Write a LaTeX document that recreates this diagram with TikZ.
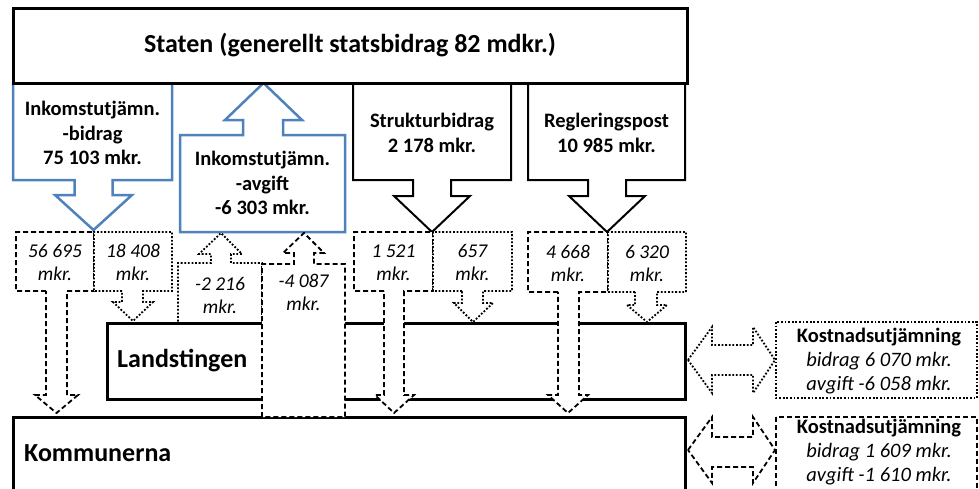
\documentclass[tikz,border=0pt]{standalone}
\usepackage{fontspec}
\setmainfont{Carlito}
\definecolor{myblue}{HTML}{4F81BD}
\begin{document}
\begin{tikzpicture}[x=1pt,y=-1pt,
  thickbox/.style={draw=black,line width=3pt,fill=white},
  bluearrow/.style={draw=myblue,line width=2.5pt,fill=white,line join=miter},
  blackarrow/.style={draw=black,line width=2pt,fill=white,line join=miter},
  dashshape/.style={draw=black,line width=1.8pt,fill=white,dash pattern=on 5pt off 3pt},
  dotshape/.style={draw=black,line width=1.8pt,fill=white,dash pattern=on 1.8pt off 1.8pt},
  lbl/.style={font=\bfseries\fontsize{20.5}{24.5}\selectfont,align=center,inner sep=0pt},
  num/.style={font=\itshape\fontsize{19.5}{23}\selectfont,align=center,inner sep=0pt},
  big/.style={font=\bfseries\fontsize{26}{30}\selectfont,inner sep=0pt},
  kost/.style={font=\fontsize{20.5}{24}\selectfont,align=center,inner sep=0pt}]
\useasboundingbox (0,0) rectangle (979,488);
\clip (0,0) rectangle (979,488);

% main boxes
\draw[thickbox] (13,417) rectangle (685,520);
\draw[thickbox] (107,323) rectangle (685,399);

% arrows from the state
\draw[bluearrow] (13,83) -- (13,180) -- (74.5,180) -- (74.5,195) -- (55,195) -- (93.5,230)
  -- (132,195) -- (112.5,195) -- (112.5,180) -- (172,180) -- (172,83) -- cycle;
\draw[bluearrow] (180,232) -- (180,135) -- (243,135) -- (243,120) -- (225,120) -- (263.5,83)
  -- (302,120) -- (283,120) -- (283,135) -- (345,135) -- (345,232) -- cycle;
\draw[blackarrow] (353,83) -- (353,180) -- (413,180) -- (413,196) -- (394,196) -- (432,232)
  -- (470,196) -- (451,196) -- (451,180) -- (511,180) -- (511,83) -- cycle;
\draw[blackarrow] (528,83) -- (528,180) -- (588,180) -- (588,196) -- (569,196) -- (607,232)
  -- (645,196) -- (626,196) -- (626,180) -- (685,180) -- (685,83) -- cycle;
\draw[thickbox] (13,8) rectangle (687,83);

% dashed callouts
\draw[dashshape] (46,291) -- (16,291) -- (16,232) -- (94,232) -- (94,291) -- (67,291)
  -- (67,395) -- (78,395) -- (56.5,413) -- (35,395) -- (46,395) -- cycle;
\draw[dashshape] (384,291) -- (354,291) -- (354,232) -- (433,232) -- (433,291) -- (404,291)
  -- (404,395) -- (414,395) -- (394,413) -- (375,395) -- (384,395) -- cycle;
\draw[dashshape] (558,292) -- (528,292) -- (528,232) -- (608,232) -- (608,292) -- (579,292)
  -- (579,395) -- (588,395) -- (568,413) -- (548,395) -- (558,395) -- cycle;

% dotted callouts
\draw[dotshape] (122,291) -- (94,291) -- (94,232) -- (172,232) -- (172,291) -- (143,291)
  -- (143,302) -- (153,302) -- (133,321) -- (113,302) -- (122,302) -- cycle;
\draw[dotshape] (462,291) -- (433,291) -- (433,232) -- (512,232) -- (512,291) -- (483,291)
  -- (483,303) -- (493,303) -- (473,322) -- (454,303) -- (462,303) -- cycle;
\draw[dotshape] (635,292) -- (608,292) -- (608,232) -- (686,232) -- (686,292) -- (657,292)
  -- (657,305) -- (667,305) -- (647,322) -- (627,305) -- (635,305) -- cycle;
\draw[dotshape] (178,321.5) -- (178,263) -- (211,263) -- (211,254) -- (199,254) -- (221,233)
  -- (242,254) -- (231,254) -- (231,263) -- (262,263) -- (262,321.5);
\draw[dashshape] (262,417) -- (262,264) -- (294,264) -- (294,253) -- (283,253) -- (304,233)
  -- (324,253) -- (314,253) -- (314,264) -- (345,264) -- (345,417) -- cycle;

% right side
\draw[dotshape] (688,360) -- (712,327) -- (712,345) -- (753,345) -- (753,327) -- (775,360)
  -- (753,393) -- (753,375) -- (712,375) -- (712,393) -- cycle;
\draw[dashshape] (688,450) -- (712,417) -- (712,437) -- (753,437) -- (753,417) -- (775,450)
  -- (753,483) -- (753,467) -- (712,467) -- (712,483) -- cycle;
\draw[dotshape] (776,322) rectangle (977,398);
\draw[dashshape] (776,417) rectangle (977,520);

% texts
\node[big] (staten) at (350,45.5) {Staten (generellt statsbidrag 82 mdkr.)};
\node[lbl] (ib) at (92.5,133) {Inkomstutjämn.\\-bidrag\\75 103 mkr.};
\node[lbl] (ia) at (262.5,183) {Inkomstutjämn.\\-avgift\\-6 303 mkr.};
\node[lbl] (sb) at (432,133) {Strukturbidrag\\2 178 mkr.};
\node[lbl] (rp) at (606.5,133) {Regleringspost\\10 985 mkr.};
\node[num] (n1) at (55,262.5) {56 695\\mkr.};
\node[num] (n2) at (133,262.5) {18 408\\mkr.};
\node[num] (n3) at (393.5,262.5) {1 521\\mkr.};
\node[num] (n4) at (472.5,262.5) {657\\mkr.};
\node[num] (n5) at (568,263) {4 668\\mkr.};
\node[num] (n6) at (647,263) {6 320\\mkr.};
\node[num] (n7) at (220,295) {-2 216\\mkr.};
\node[num] (n8) at (303.5,292.5) {-4 087\\mkr.};
\node[big,anchor=west] (land) at (117,361) {Landstingen};
\node[big,anchor=west] (komm) at (24,453) {Kommunerna};
\node[kost] (k1) at (879,361) {\textbf{Kostnadsutjämning}\\\textit{bidrag 6 070 mkr.}\\\textit{avgift -6 058 mkr.}};
\node[kost] (k2) at (879,452) {\textbf{Kostnadsutjämning}\\\textit{bidrag 1 609 mkr.}\\\textit{avgift -1 610 mkr.}};
\end{tikzpicture}
\end{document}
